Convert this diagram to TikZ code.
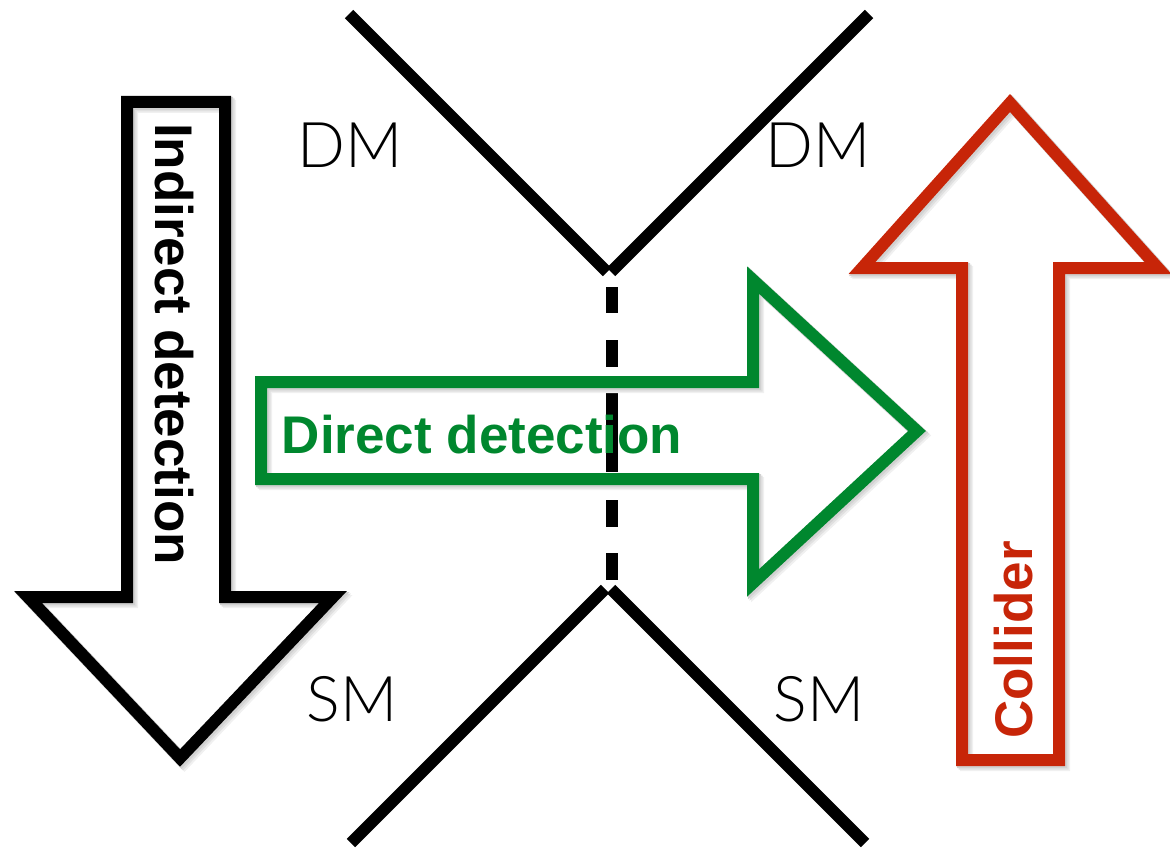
\documentclass[tikz,border=0pt]{standalone}
\usepackage{fontspec}
\setmainfont{Liberation Sans}
\newfontfamily\thinsans{Lato Light}
\definecolor{directgreen}{RGB}{0,135,46}
\definecolor{colliderred}{RGB}{199,37,8}

\begin{document}
\begin{tikzpicture}[
    x=1pt, y=-1pt,
    leg/.style={line width=12pt, line cap=butt},
    cutline/.style={
        line width=12pt,
        dash pattern=on 26pt off 27pt on 27pt off 26pt on 79pt off 28pt on 27pt off 26pt on 27pt,
    },
    bigarrow/.style={line width=12pt, line join=miter},
    arrowshade/.style={
        line width=13pt, line join=miter, draw=black!#1,
    },
    particle/.style={font=\thinsans\fontsize{63}{63}\selectfont, inner sep=0pt, anchor=base},
    arrowlabel/.style={font=\fontsize{53}{53}\selectfont\bfseries, inner sep=0pt, anchor=base},
]
\useasboundingbox (0,0) rectangle (1170,853);

% ── Vertex legs ─────────────────────────────────────────────
\coordinate (dmin)  at (349,14);
\coordinate (vtop)  at (607,272);
\coordinate (vtop2) at (611,272);
\coordinate (dmout) at (869,14);
\coordinate (vbot)  at (605,589);
\coordinate (vbot2) at (611,589);
\coordinate (smin)  at (351,843);
\coordinate (smout) at (865,843);

\draw[leg] (dmin) -- (vtop);
\draw[leg] (vtop2) -- (dmout);
\draw[leg] (vbot) -- (smin);
\draw[leg] (vbot2) -- (smout);

% ── Cut through the vertex ──────────────────────────────────
\coordinate (cuttop) at (612,287);
\coordinate (cutbot) at (612,580);
\draw[cutline] (cuttop) -- (cutbot);

% ── Arrow corners ───────────────────────────────────────────
% indirect detection (down)
\coordinate (ind1) at (127,102);
\coordinate (ind2) at (225,102);
\coordinate (ind3) at (225,597);
\coordinate (ind4) at (333,597);
\coordinate (ind5) at (180,758);
\coordinate (ind6) at (28,597);
\coordinate (ind7) at (127,597);
% direct detection (right)
\coordinate (dir1) at (261,382);
\coordinate (dir2) at (753,382);
\coordinate (dir3) at (753,280);
\coordinate (dir4) at (917,431);
\coordinate (dir5) at (753,583);
\coordinate (dir6) at (753,479);
\coordinate (dir7) at (261,479);
% collider (up)
\coordinate (col1) at (962,760);
\coordinate (col2) at (1059,760);
\coordinate (col3) at (1059,268);
\coordinate (col4) at (1158,268);
\coordinate (col5) at (1010,103);
\coordinate (col6) at (862,268);
\coordinate (col7) at (962,268);

% ── Soft shadows under the arrows ───────────────────────────
\foreach \off/\shade in {4.5/6, 3/12, 1.5/18} {
    \begin{scope}[transform canvas={shift={(\off pt,-\off pt)}}]
        \draw[arrowshade=\shade]
            (ind1) -- (ind2) -- (ind3) -- (ind4) -- (ind5) -- (ind6) -- (ind7) -- cycle;
        \draw[arrowshade=\shade]
            (dir1) -- (dir2) -- (dir3) -- (dir4) -- (dir5) -- (dir6) -- (dir7) -- cycle;
        \draw[arrowshade=\shade]
            (col1) -- (col2) -- (col3) -- (col4) -- (col5) -- (col6) -- (col7) -- cycle;
    \end{scope}
}

% ── Arrows ──────────────────────────────────────────────────
\draw[bigarrow, draw=black]
    (ind1) -- (ind2) -- (ind3) -- (ind4) -- (ind5) -- (ind6) -- (ind7) -- cycle;
\draw[bigarrow, draw=directgreen]
    (dir1) -- (dir2) -- (dir3) -- (dir4) -- (dir5) -- (dir6) -- (dir7) -- cycle;
\draw[bigarrow, draw=colliderred]
    (col1) -- (col2) -- (col3) -- (col4) -- (col5) -- (col6) -- (col7) -- cycle;

% ── Particle labels ─────────────────────────────────────────
\node[particle] (dmleft)  at (350,168) {DM};
\node[particle] (dmright) at (818,168) {DM};
\node[particle] (smleft)  at (352,721) {SM};
\node[particle] (smright) at (819,721) {SM};

% ── Arrow labels ────────────────────────────────────────────
\node[arrowlabel, rotate=-90] (indlabel) at (155,344) {Indirect detection};
\node[arrowlabel, text=directgreen] (dirlabel) at (482,453) {Direct detection};
\node[arrowlabel, text=colliderred, rotate=90] (collabel) at (1032,640) {Collider};

\end{tikzpicture}
\end{document}
